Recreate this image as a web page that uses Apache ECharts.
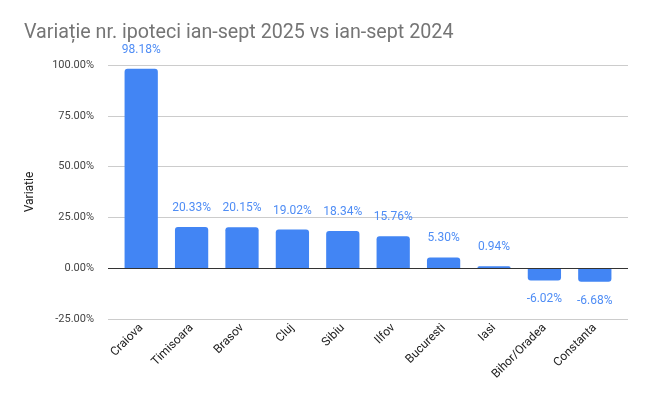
<!DOCTYPE html>
<html><head><meta charset="utf-8">
<script src="https://cdn.jsdelivr.net/npm/echarts@6/dist/echarts.min.js"></script>
<style>html,body{margin:0;padding:0;background:#fff}#c{width:649px;height:402px}</style>
</head><body><div id="c"></div>
<script>
var categories = ["Craiova","Timisoara","Brasov","Cluj","Sibiu","Ilfov","Bucuresti","Iasi","Bihor/Oradea","Constanta"];
var values = [98.18, 20.33, 20.15, 19.02, 18.34, 15.76, 5.30, 0.94, -6.02, -6.68];
var yTicks = [-25, 0, 25, 50, 75, 100];

var font = "Roboto, Arial, sans-serif";
var chart = echarts.init(document.getElementById('c'), null, {renderer:'canvas'});
chart.setOption({
  animation:false,
  title:{text:"Variație nr. ipoteci ian-sept 2025 vs ian-sept 2024", left:19, top:18,
    textStyle:{fontFamily:font, fontSize:19.7, fontWeight:'normal', color:'#757575'}},
  grid:[{left:108, right:21, top:65, bottom:83},
        {left:116, right:29, top:65, bottom:83}],
  xAxis:[{type:'value', gridIndex:0, show:false},
    {type:'category', gridIndex:1, data:categories,
    axisLine:{show:false}, axisTick:{show:false},
    axisLabel:{rotate:45, interval:0, fontFamily:font, fontSize:12, color:'#222', margin:7}}],
  yAxis:[{type:'value', gridIndex:0, min:yTicks[0], max:yTicks[yTicks.length-1], interval:25,
    name:'Variatie', nameLocation:'middle', nameGap:72, nameRotate:90,
    nameTextStyle:{fontFamily:font, fontSize:12, color:'#222'},
    axisLine:{show:false}, axisTick:{show:false},
    axisLabel:{formatter:function(v){return v.toFixed(2)+'%';}, fontFamily:font, fontSize:11, color:'#444', margin:14},
    splitLine:{lineStyle:{color:'#cccccc', width:1}}},
    {type:'value', gridIndex:1, min:yTicks[0], max:yTicks[yTicks.length-1], interval:25, show:false, splitLine:{show:false}}],
  series:[{
    type:'line', xAxisIndex:0, yAxisIndex:0, data:[], 
    markLine:{silent:true, symbol:'none', label:{show:false},
      lineStyle:{color:'#333', width:1, type:'solid'}, data:[{yAxis:0}]}
  },{
    type:'bar', xAxisIndex:1, yAxisIndex:1, data:values.map(function(v){
      return {value:v, itemStyle:{borderRadius: v>=0?[3,3,0,0]:[0,0,3,3]},
        label:{position: v>=0?'top':'bottom'}};
    }),
    barWidth:'66%',
    itemStyle:{color:'#4285F4'},
    label:{show:true, distance:13, formatter:function(p){return p.value.toFixed(2)+'%';},
      fontFamily:font, fontSize:12, color:'#4F8DF5'}
  }]
});
</script></body></html>
